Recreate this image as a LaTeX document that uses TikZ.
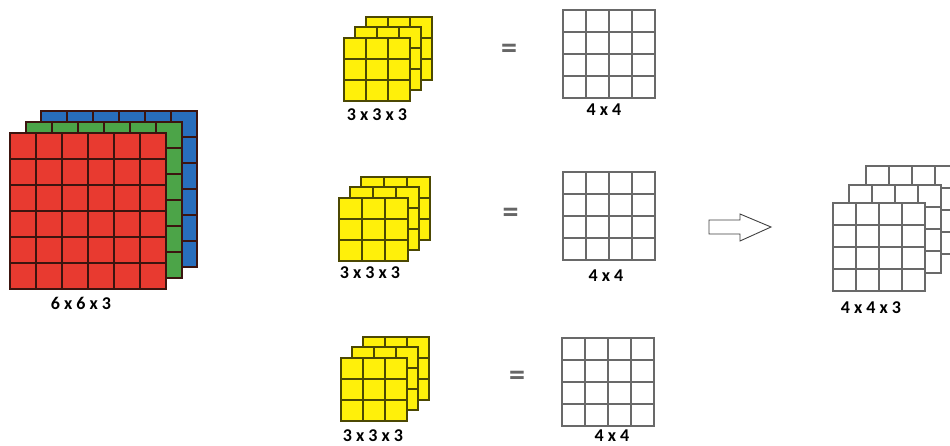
\documentclass[tikz,border=0pt]{standalone}
\usepackage{fontspec}
\setmainfont{Carlito}[BoldFont={Carlito Bold}]
\usetikzlibrary{positioning}
\definecolor{redcol}{RGB}{232, 58, 48}
\definecolor{greencol}{RGB}{76, 164, 72}
\definecolor{bluecol}{RGB}{40, 110, 188}
\definecolor{yelcol}{RGB}{255, 240, 10}
\definecolor{linecol}{RGB}{60, 20, 15}
\definecolor{gridcol}{RGB}{105, 105, 105}

% one sheet: style, lower left corner, cells per side, cell width, cell height
\newcommand{\gridsheet}[5]{%
  \begin{scope}[shift={#2}]
    \pgfmathtruncatemacro{\lastk}{#3-1}
    \filldraw[#1] (0,0) rectangle ({#3*#4},{#3*#5});
    \foreach \k in {1,...,\lastk} {
      \draw[#1, fill=none] ({\k*#4},0) -- ({\k*#4},{#3*#5});
      \draw[#1, fill=none] (0,{\k*#5}) -- ({#3*#4},{\k*#5});
    }
  \end{scope}}

\begin{document}
\begin{tikzpicture}[x=1pt, y=1pt,
      redsheet/.style={fill=redcol, draw=linecol, line width=1.7pt},
      greensheet/.style={fill=greencol, draw=linecol, line width=1.7pt},
      bluesheet/.style={fill=bluecol, draw=linecol, line width=1.7pt},
      yelsheet/.style={fill=yelcol, draw=black!70!yelcol, line width=1.2pt},
      outsheet/.style={fill=white, draw=gridcol, line width=1.5pt},
      dimlabel/.style={font=\fontsize{18}{20}\selectfont\bfseries, text=black},
      eqsign/.style={font=\fontsize{32}{34}\selectfont\bfseries, text=black!60},
      arrowline/.style={draw=black!75, fill=white, line width=0.9pt}]

      \useasboundingbox (0,0) rectangle (950,445);

      % Entree 6x6x3
      \gridsheet{bluesheet}{(41,178)}{6}{26}{26}
      \gridsheet{greensheet}{(26,167)}{6}{26}{26}
      \gridsheet{redsheet}{(10,156)}{6}{26}{26}
      \node[dimlabel] (inlab) at (81,142) {6 x 6 x 3};

      % Filtres 3x3x3
      \gridsheet{yelsheet}{(366,365)}{3}{22}{21}
      \gridsheet{yelsheet}{(355,355)}{3}{22}{21}
      \gridsheet{yelsheet}{(344,344)}{3}{22}{21}
      \node[dimlabel] (flab1) at (377,330) {3 x 3 x 3};

      \gridsheet{yelsheet}{(361,205)}{3}{23}{21}
      \gridsheet{yelsheet}{(350,195)}{3}{23}{21}
      \gridsheet{yelsheet}{(339,184)}{3}{23}{21}
      \node[dimlabel] (flab2) at (370,172) {3 x 3 x 3};

      \gridsheet{yelsheet}{(363,45)}{3}{22}{21}
      \gridsheet{yelsheet}{(352,35)}{3}{22}{21}
      \gridsheet{yelsheet}{(341,24)}{3}{22}{21}
      \node[dimlabel] (flab3) at (373,9) {3 x 3 x 3};

      % Egal
      \node[eqsign] (eq1) at (509,394) {=};
      \node[eqsign] (eq2) at (510.5,230) {=};
      \node[eqsign] (eq3) at (517,67) {=};

      % Sorties 4x4
      \gridsheet{outsheet}{(563,347)}{4}{23}{22}
      \node[dimlabel] (olab1) at (604,335) {4 x 4};
      \gridsheet{outsheet}{(563,185)}{4}{23}{22}
      \node[dimlabel] (olab2) at (606,169) {4 x 4};
      \gridsheet{outsheet}{(562,19)}{4}{23}{22}
      \node[dimlabel] (olab3) at (612,9) {4 x 4};

      % Fleche
      \draw[arrowline] (709,225) -- (740,225) -- (740,231) -- (771,218)
        -- (740,204) -- (740,211) -- (709,211) -- cycle;

      % Sortie 4x4x3
      \gridsheet{outsheet}{(866,191)}{4}{23}{22}
      \gridsheet{outsheet}{(849,172)}{4}{23}{22}
      \gridsheet{outsheet}{(833,154)}{4}{23}{22}
      \node[dimlabel] (outlab) at (871,137.5) {4 x 4 x 3};
    \end{tikzpicture}
\end{document}
